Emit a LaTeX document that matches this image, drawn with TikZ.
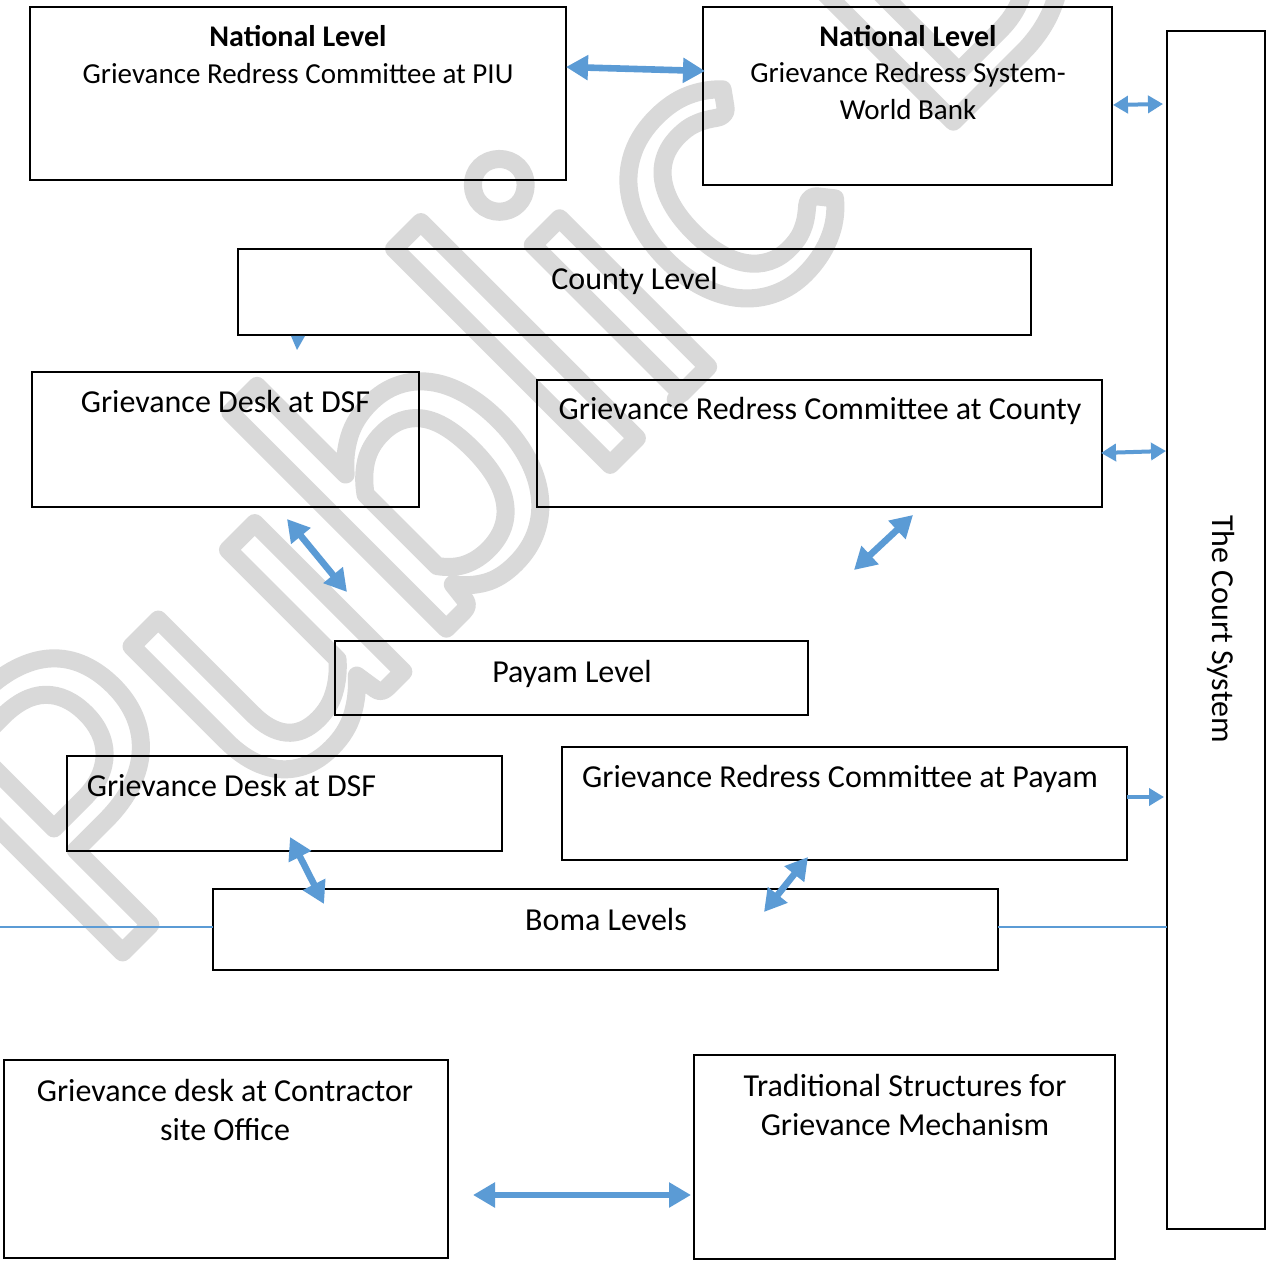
\documentclass[tikz,border=0pt]{standalone}
\usepackage{fontspec}
\setmainfont{Carlito}
\usetikzlibrary{arrows.meta,fit}
\definecolor{arrowblue}{HTML}{5B9BD5}
\definecolor{wmgray}{HTML}{D9D9D9}
\begin{document}
\begin{tikzpicture}[x=0.5pt,y=-0.5pt,
  box/.style={draw=black, line width=0.7pt, inner sep=0pt, rectangle},
  lbl/.style={anchor=base, inner sep=0pt, font=\fontsize{16}{19.5}\selectfont},
  natlbl/.style={anchor=base, inner sep=0pt, font=\fontsize{14.5}{18.5}\selectfont},
  nathead/.style={anchor=base, inner sep=0pt, font=\fontsize{15}{18.5}\selectfont\bfseries},
  bigarrow/.style={draw=arrowblue, line width=3.3pt, {Triangle[length=11pt,width=12pt]}-{Triangle[length=11pt,width=12pt]}},
  smallarrow/.style={draw=arrowblue, line width=2pt, {Triangle[length=7.5pt,width=8.5pt]}-{Triangle[length=7.5pt,width=8.5pt]}},
  onearrow/.style={draw=arrowblue, line width=2pt, -{Triangle[length=7.5pt,width=8.5pt]}},
  blueline/.style={draw=arrowblue, line width=1pt}
]
\useasboundingbox (0,0) rectangle (1274,1262);
\clip (0,0) rectangle (1274,1262);
\fill[white] (0,0) rectangle (1274,1262);

% watermark
\node[rotate=45, anchor=base west, text=wmgray, inner sep=0pt,
      font=\fontsize{220}{220}\selectfont] (wm) at (100,975)
  {\special{pdf:literal direct 1 Tr 9 w 1 j 1 J 0.851 G}Public Disclosure Authorized\special{pdf:literal direct 0 Tr 0 j 0 J}};

% boxes
\node[box, fit={(30,7) (566,180)}] (natpiu) {};
\node[box, fit={(703,7) (1112,185)}] (natwb) {};
\node[box, fit={(1167,31) (1265,1229)}] (court) {};
\node[box, fit={(238,249) (1031,335)}] (county) {};
\node[box, fit={(32,372) (419,507)}] (dsfa) {};
\node[box, fit={(537,380) (1102,507)}] (grccounty) {};
\node[box, fit={(335,641) (808,715)}] (payam) {};
\node[box, fit={(67,756) (502,851)}] (dsfb) {};
\node[box, fit={(562,747) (1127,860)}] (grcpayam) {};
\node[box, fit={(213,889) (998,970)}] (boma) {};
\node[box, fit={(4,1060) (448,1258)}] (contractor) {};
\node[box, fit={(694,1055) (1115,1259)}] (traditional) {};

% labels
\node[nathead] (t1a) at (298,47) {National Level};
\node[natlbl] (t1b) at (298,84) {Grievance Redress Committee at PIU};
\node[nathead] (t2a) at (908,47) {National Level};
\node[natlbl] (t2b) at (908,83) {Grievance Redress System-};
\node[natlbl] (t2c) at (908,120) {World Bank};
\node[lbl, rotate=-90] (t3) at (1212,629) {The Court System};
\node[lbl] (t4) at (634.5,290) {County Level};
\node[lbl] (t5) at (225.5,413) {Grievance Desk at DSF};
\node[lbl] (t6) at (820,420) {Grievance Redress Committee at County};
\node[lbl] (t7) at (572,682) {Payam Level};
\node[lbl] (t8) at (231.5,796) {Grievance Desk at DSF};
\node[lbl] (t9) at (840,787) {Grievance Redress Committee at Payam};
\node[lbl] (t10) at (606,930) {Boma Levels};
\node[lbl] (t11a) at (225,1101) {Grievance desk at Contractor};
\node[lbl] (t11b) at (225,1140) {site Office};
\node[lbl] (t12a) at (905,1096) {Traditional Structures for};
\node[lbl] (t12b) at (905,1135) {Grievance Mechanism};

% arrow end coordinates
\coordinate (a1) at (566,67);   \coordinate (a2) at (705,71);
\coordinate (b1) at (1113,105); \coordinate (b2) at (1163,104);
\coordinate (d1) at (1101,453); \coordinate (d2) at (1166,451);
\coordinate (e1) at (287,519);  \coordinate (e2) at (347,592);
\coordinate (f1) at (913,515);  \coordinate (f2) at (854,570);
\coordinate (g1) at (1127,797); \coordinate (g2) at (1164,797);
\coordinate (h1) at (290,837);  \coordinate (h2) at (324,904);
\coordinate (i1) at (808,857);  \coordinate (i2) at (764,912);
\coordinate (j1) at (473,1195); \coordinate (j2) at (691,1195);
\coordinate (l1) at (0,927);    \coordinate (l2) at (213,927);
\coordinate (r1) at (998,927);  \coordinate (r2) at (1167,927);

\draw[bigarrow] (a1) -- (a2);
\draw[smallarrow] (b1) -- (b2);
\draw[smallarrow] (d1) -- (d2);
\draw[bigarrow] (e1) -- (e2);
\draw[bigarrow] (f1) -- (f2);
\draw[onearrow] (g1) -- (g2);
\draw[bigarrow] (h1) -- (h2);
\draw[bigarrow] (i1) -- (i2);
\draw[bigarrow, line width=3pt] (j1) -- (j2);
\draw[blueline] (l1) -- (l2);
\draw[blueline] (r1) -- (r2);

% small tip below County Level
\fill[arrowblue] (291,336) -- (305,336) -- (297,350) -- cycle;
\end{tikzpicture}
\end{document}
